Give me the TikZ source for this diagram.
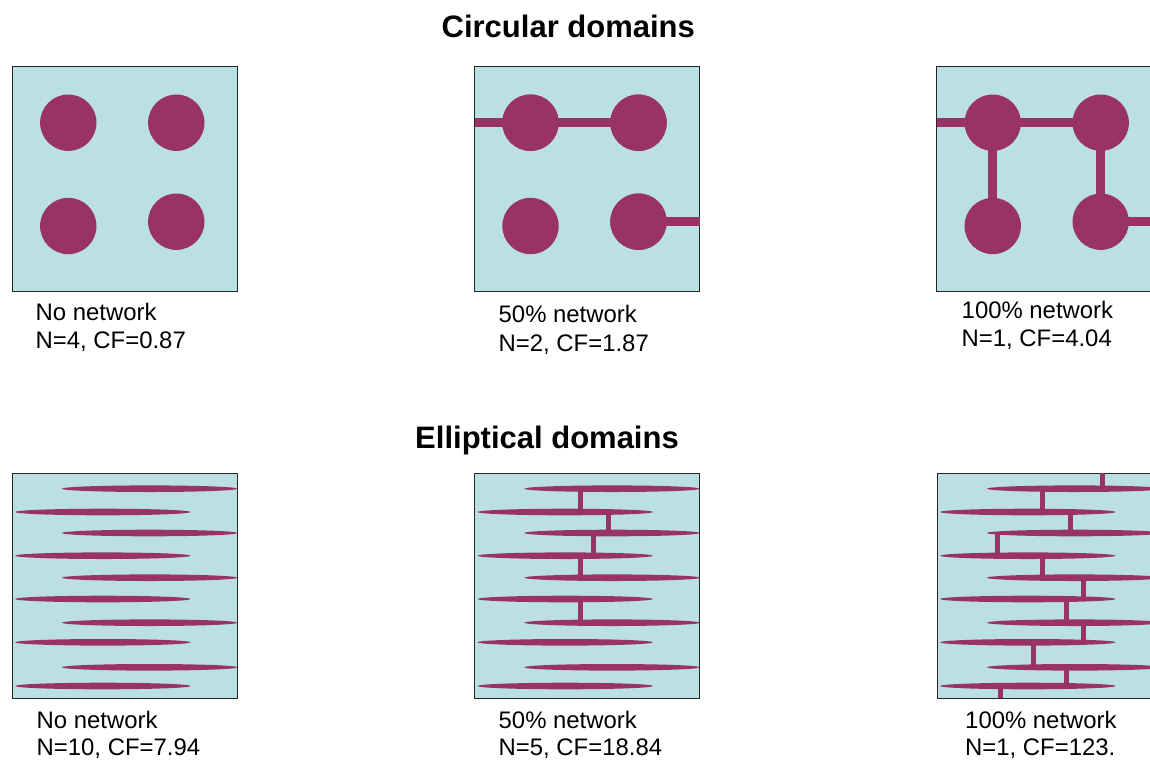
\documentclass[tikz,border=0pt]{standalone}
\usepackage{fontspec}
\setmainfont{Liberation Sans}
\usetikzlibrary{shapes.geometric}

\definecolor{matrixblue}{HTML}{BBE0E3}
\definecolor{domainplum}{HTML}{993366}
\definecolor{frameline}{HTML}{262626}

\tikzset{
  panelbox/.style={fill=matrixblue, draw=frameline, line width=0.9pt},
  disc/.style={circle, fill=domainplum, draw=none, minimum size=56.4pt, inner sep=0pt},
  lens/.style={ellipse, fill=domainplum, draw=none, minimum width=175.5pt, minimum height=6.6pt, inner sep=0pt},
  thickbar/.style={draw=domainplum, line width=9.5pt},
  thinbar/.style={draw=domainplum, line width=4.5pt},
  heading/.style={font=\fontsize{31}{37}\selectfont\bfseries, inner sep=0pt, anchor=base},
  caption/.style={font=\fontsize{23.9}{29}\selectfont, inner sep=0pt, anchor=base west},
}

% a square matrix cell of side 225 with its top-left corner at the current origin
\newcommand{\cellframe}{\path[panelbox] (0,0) rectangle (225,225);}

% ten elongated domains, alternating right- and left-shifted rows
\newcommand{\lensrows}{%
  \node[lens] (r1) at (137.3,15.4) {};
  \node[lens] (l1) at (90.5,38.7) {};
  \node[lens] (r2) at (137.3,59.7) {};
  \node[lens] (l2) at (90.5,82.4) {};
  \node[lens] (r3) at (137.3,104.4) {};
  \node[lens] (l3) at (90.5,125.7) {};
  \node[lens] (r4) at (137.3,149.4) {};
  \node[lens] (l4) at (90.5,169) {};
  \node[lens] (r5) at (137.3,194) {};
  \node[lens] (l5) at (90.5,212.7) {};
}

% vertical link at x=#1 between the rows #2 and #3
\newcommand{\lenslink}[3]{%
  \coordinate (lk) at (#1,0);
  \draw[thinbar] (lk |- #2.center) -- (lk |- #3.center);
}

\begin{document}
\begin{tikzpicture}[x=1pt, y=-1pt]
\useasboundingbox (0,0) rectangle (1150,761);
\fill[white] (0,0) rectangle (1150,761);
\clip (0,0) rectangle (1150,761);

% ---------------- titles ----------------
\node[heading] (titleC) at (568.3,37.5) {Circular domains};
\node[heading] (titleE) at (547,448.3) {Elliptical domains};

% ---------------- circular: no network ----------------
\begin{scope}[shift={(12.3,66.7)}]
  \cellframe
  \node[disc] (a1) at (56,56) {};
  \node[disc] (a2) at (164,56) {};
  \node[disc] (a3) at (56,159.3) {};
  \node[disc] (a4) at (164,155) {};
\end{scope}
\node[caption] (capA1) at (35.5,320) {No network};
\node[caption] (capA2) at (35.5,348.5) {N=4, CF=0.87};

% ---------------- circular: 50% network ----------------
\begin{scope}[shift={(474.5,66.7)}]
  \cellframe
  \coordinate (bL) at (0,56);
  \coordinate (bR) at (225,155);
  \node[disc] (b1) at (56,56) {};
  \node[disc] (b2) at (164,56) {};
  \node[disc] (b3) at (56,159.3) {};
  \node[disc] (b4) at (164,155) {};
  \draw[thickbar] (bL) -- (b2.center);
  \draw[thickbar] (b4.center) -- (bR);
  \node[disc] at (b1) {};
  \node[disc] at (b2) {};
  \node[disc] at (b4) {};
\end{scope}
\node[caption] (capB1) at (498.5,322.5) {50\% network};
\node[caption] (capB2) at (498.5,351) {N=2, CF=1.87};

% ---------------- circular: 100% network ----------------
\begin{scope}[shift={(936.7,66.7)}]
  \cellframe
  \coordinate (cL) at (0,56);
  \coordinate (cR) at (225,155);
  \node[disc] (c1) at (56,56) {};
  \node[disc] (c2) at (164,56) {};
  \node[disc] (c3) at (56,159.3) {};
  \node[disc] (c4) at (164,155) {};
  \draw[thickbar] (cL) -- (c2.center);
  \draw[thickbar] (c4.center) -- (cR);
  \draw[thickbar] (c1.center) -- (c3.center);
  \draw[thickbar] (c2.center) -- (c4.center);
\end{scope}
\node[caption] (capC1) at (961.5,318) {100\% network};
\node[caption] (capC2) at (961.5,346.5) {N=1, CF=4.04};

% ---------------- elliptical: no network ----------------
\begin{scope}[shift={(12.3,473.3)}]
  \cellframe
  \lensrows
\end{scope}
\node[caption] (capD1) at (36.5,728) {No network};
\node[caption] (capD2) at (36.5,755.5) {N=10, CF=7.94};

% ---------------- elliptical: 50% network ----------------
\begin{scope}[shift={(474.7,473.3)}]
  \cellframe
  \lensrows
  \lenslink{106}{r1}{l1}
  \lenslink{133.6}{l1}{r2}
  \lenslink{118.6}{r2}{l2}
  \lenslink{106}{l2}{r3}
  \lenslink{106}{l3}{r4}
\end{scope}
\node[caption] (capE1) at (498.5,728) {50\% network};
\node[caption] (capE2) at (498.5,755.5) {N=5, CF=18.84};

% ---------------- elliptical: 100% network ----------------
\begin{scope}[shift={(937.3,473.3)}]
  \cellframe
  \lensrows
  \coordinate (topedge) at (0,0);
  \coordinate (botedge) at (0,225);
  \lenslink{165}{topedge}{r1}
  \lenslink{105}{r1}{l1}
  \lenslink{133}{l1}{r2}
  \lenslink{60}{r2}{l2}
  \lenslink{105}{l2}{r3}
  \lenslink{146}{r3}{l3}
  \lenslink{129}{l3}{r4}
  \lenslink{146}{r4}{l4}
  \lenslink{96}{l4}{r5}
  \lenslink{129}{r5}{l5}
  \lenslink{63}{l5}{botedge}
\end{scope}
\node[caption] (capF1) at (965,728) {100\% network};
\node[caption] (capF2) at (965,755.5) {N=1, CF=123.};

\end{tikzpicture}
\end{document}
